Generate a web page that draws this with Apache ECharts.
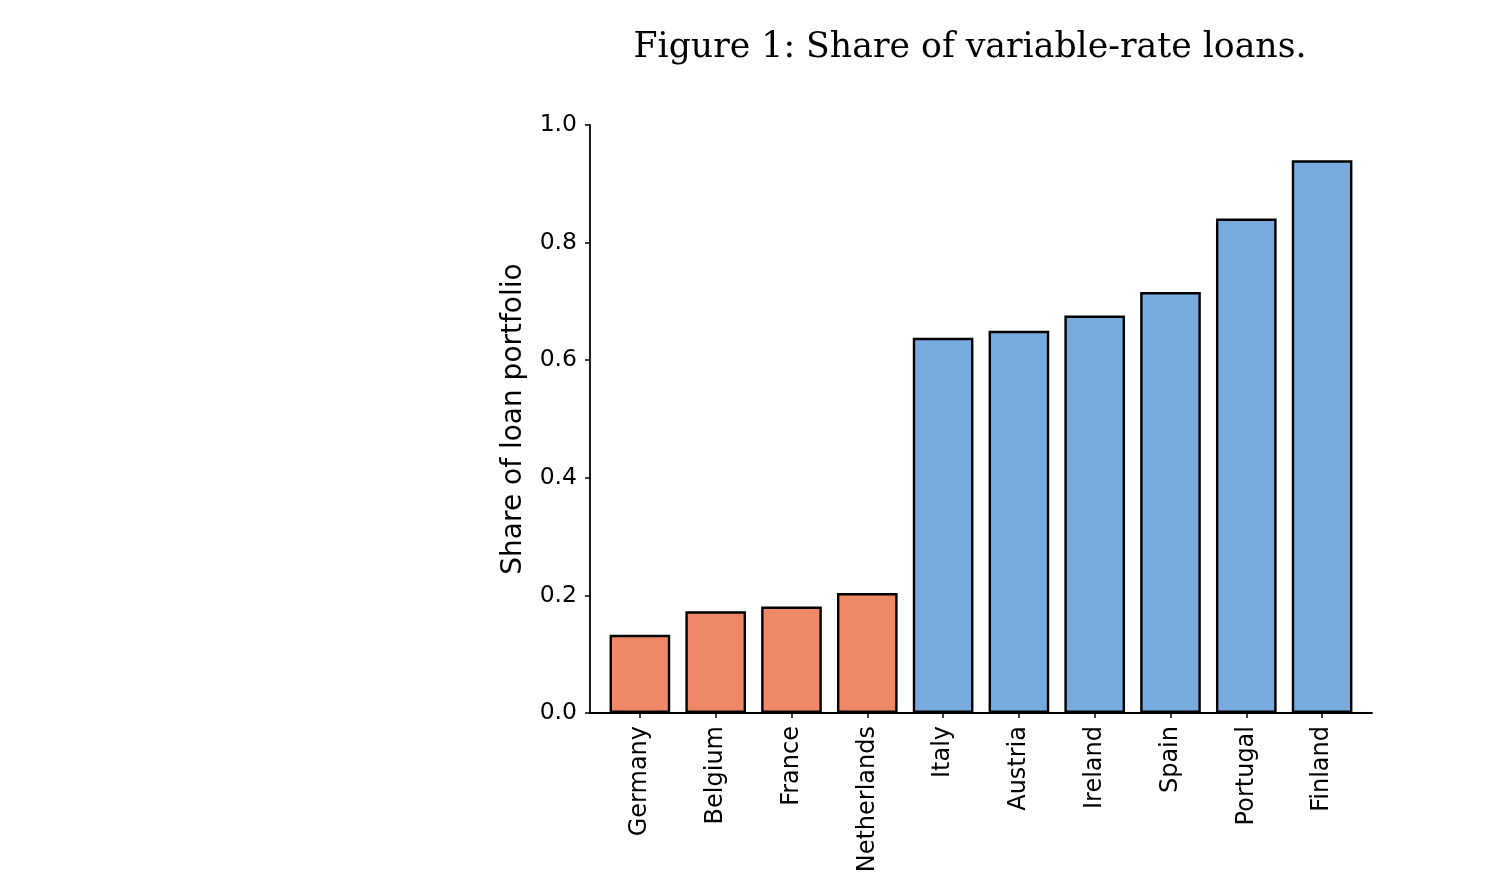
<!DOCTYPE html>
<html>
<head>
<meta charset="utf-8">
<script src="https://cdn.jsdelivr.net/npm/echarts@6/dist/echarts.min.js"></script>
<style>
html,body{margin:0;padding:0;background:#fff;}
#chart{width:1504px;height:880px;}
</style>
</head>
<body>
<div id="chart"></div>
<script>
const titleText = 'Figure 1: Share of variable-rate loans.';
const yAxisName = 'Share of loan portfolio';
const categories = ['Germany','Belgium','France','Netherlands','Italy','Austria','Ireland','Spain','Portugal','Finland'];
const shares = [0.133, 0.173, 0.181, 0.204, 0.638, 0.650, 0.676, 0.716, 0.841, 0.940];
const groups = ['fixed','fixed','fixed','fixed','variable','variable','variable','variable','variable','variable'];
const groupColors = {fixed: '#EE8866', variable: '#77AADD'};
const yTicks = [0.0, 0.2, 0.4, 0.6, 0.8, 1.0];

const chart = echarts.init(document.getElementById('chart'), null, {renderer: 'canvas'});
const sansFont = 'DejaVu Sans';
const option = {
  backgroundColor: '#ffffff',
  animation: false,
  title: {
    text: titleText,
    left: 965,
    top: 25,
    textAlign: 'center',
    textStyle: {fontFamily: 'DejaVu Serif', fontSize: 34.7, fontWeight: 'normal', color: '#000'}
  },
  grid: [
    {left: 602, right: 144, top: 125, bottom: 167, containLabel: false},
    {left: 590, right: 132, top: 125, bottom: 167, containLabel: false}
  ],
  xAxis: [
    {
      type: 'category', gridIndex: 0, data: categories,
      axisLine: {show: false},
      axisTick: {show: true, alignWithLabel: true, length: 5, lineStyle: {color: '#000', width: 1.5}},
      axisLabel: {rotate: 90, margin: 13, interval: 0, color: '#000', fontFamily: sansFont, fontSize: 24}
    },
    {
      type: 'value', gridIndex: 1, min: 0, max: 1,
      axisLine: {show: true, onZero: false, lineStyle: {color: '#000', width: 1.8}},
      axisTick: {show: false}, axisLabel: {show: false}, splitLine: {show: false}
    }
  ],
  yAxis: [
    {
      type: 'value', gridIndex: 0, min: 0, max: 1,
      show: false, splitLine: {show: false}
    },
    {
      type: 'value', gridIndex: 1, min: 0, max: 1, interval: 0.2,
      name: yAxisName, nameLocation: 'middle', nameGap: 62, nameRotate: 90,
      nameTextStyle: {fontFamily: sansFont, fontSize: 28, color: '#000'},
      axisLine: {show: true, onZero: false, lineStyle: {color: '#000', width: 1.8}},
      axisTick: {show: true, length: 5, lineStyle: {color: '#000', width: 1.5}},
      axisLabel: {margin: 13, color: '#000', fontFamily: sansFont, fontSize: 23.5,
        padding: [4, 0, 0, 0],
        formatter: v => v.toFixed(1)},
      splitLine: {show: false}
    }
  ],
  series: [{
    type: 'bar', xAxisIndex: 0, yAxisIndex: 0,
    barWidth: '80%',
    data: shares.map((v, i) => ({
      value: v,
      itemStyle: {color: groupColors[groups[i]], borderColor: '#000', borderWidth: 2.4}
    }))
  }]
};
chart.setOption(option);
</script>
</body>
</html>
